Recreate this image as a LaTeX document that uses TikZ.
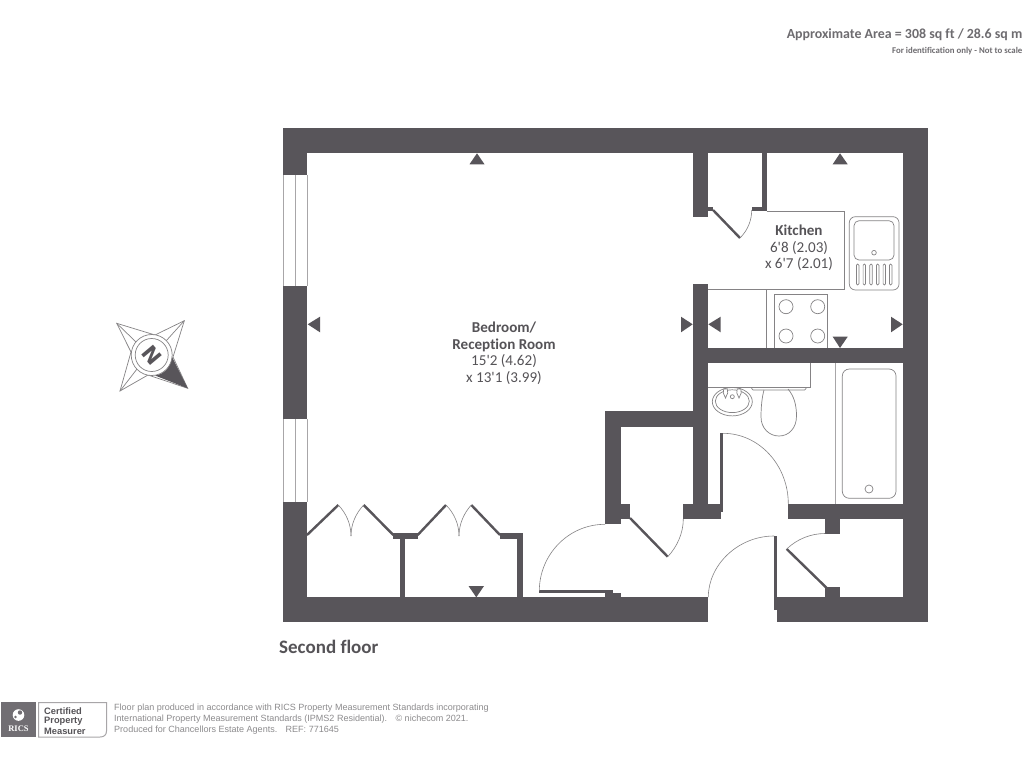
\documentclass[tikz,border=0pt]{standalone}
\usepackage{fontspec}
\newfontfamily\carl{Carlito}[Ligatures=NoCommon]
\newfontfamily\foot{Liberation Sans}
\newfontfamily\rserif{Liberation Serif}
\newfontfamily\djv{DejaVu Sans}
\definecolor{wallc}{HTML}{58555A}
\definecolor{linec}{HTML}{858385}
\definecolor{winc}{HTML}{A8A6A8}
\definecolor{txtc}{HTML}{555357}
\definecolor{toptxt}{HTML}{6E6C70}
\definecolor{footc}{HTML}{8C8B8D}
\newcommand{\wall}[4]{\fill[wallc] (#1,#2) rectangle (#3,#4);}
\newcommand{\fs}[1]{\fontsize{#1}{#1}\selectfont}
\tikzset{
  fixture/.style={draw=linec,line width=0.7pt},
  winline/.style={draw=winc,line width=1pt},
  leaf/.style={draw=wallc,line width=2.4pt},
  arcline/.style={draw=linec,line width=0.6pt},
  marker/.style={fill=wallc},
  label/.style={inner sep=0pt,anchor=base,text=txtc,font=\carl\fs{15.1}},
  labelb/.style={label,font=\carl\fs{15.1}\bfseries}
}
\begin{document}
\begin{tikzpicture}[x=1pt,y=-1pt]
\useasboundingbox (0,0) rectangle (1024,768);
\fill[white] (0,0) rectangle (1024,768);
% --- windows
\foreach \a/\b in {175/286,419/501.7}{
  \draw[winline,line width=1.3pt] (283.6,\a) -- (283.6,\b);
  \draw[winline] (295.3,\a) -- (295.3,\b);
  \draw[winline] (307,\a) -- (307,\b);
}
% --- outer walls
\wall{283}{128.3}{928.3}{152.7}
\wall{902.7}{128.3}{928.3}{622.3}
\wall{283}{128.3}{307.3}{175}
\wall{283}{286}{307.3}{419}
\wall{283}{501.7}{307.3}{622.3}
\wall{283}{597.3}{708.3}{622.3}
\wall{776.7}{597.3}{928.3}{622.3}
% --- inner walls
\wall{692.7}{152}{708.3}{216.7}
\wall{761.7}{152}{766.7}{211}
\wall{751.7}{206.7}{766.7}{211}
\wall{708}{206.7}{713}{211}
\wall{692.7}{284.3}{708.3}{519.3}
\wall{692.7}{348.3}{903}{363.3}
\wall{683.3}{504.3}{720.7}{519.3}
\wall{720}{433.3}{723.3}{512}
\wall{788.3}{504.3}{903}{519.3}
\wall{825}{519}{840}{534}
\wall{825}{587.3}{840}{598}
\wall{774}{536}{776.7}{610}
% closet
\wall{605}{411}{693}{426.7}
\wall{605}{411}{620.7}{524.3}
\wall{620}{504}{630}{519}
% wardrobes
\wall{393.3}{533.3}{417.7}{539}
\wall{400}{538}{405}{598}
\wall{500}{533.3}{522.7}{539}
\wall{517.3}{533.3}{522.7}{598}
% entry door foot
\wall{539.3}{590}{613}{592.7}
\wall{605}{592.5}{620.7}{598}
% --- door leaves
\draw[leaf] (713,210) -- (740,238);
\draw[leaf] (630,518) -- (667.7,556.7);
\draw[leaf] (786.7,549) -- (826.7,588);
\draw[leaf] (307,535) -- (338.3,505);
\draw[leaf] (363.7,505) -- (393.3,535);
\draw[leaf] (417.7,535) -- (446,505);
\draw[leaf] (471.3,505) -- (500,535);
% --- door swings
\draw[arcline] (740,238) .. controls (748,230) and (751.7,220) .. (751.7,210);
\draw[arcline] (667.7,556.7) .. controls (677,547) and (683.3,533) .. (683.3,519);
\draw[arcline] (723,433.3) .. controls (759,433.3) and (788.3,465) .. (788.3,504);
\draw[arcline] (605,524.3) .. controls (568,524.3) and (539.3,555) .. (539.3,591);
\draw[arcline] (774,536) .. controls (738,536) and (708.3,565) .. (708.3,597);
\draw[arcline] (786.7,549) .. controls (797,539) and (811,533.5) .. (825,533.5);
\draw[arcline] (338.3,505) .. controls (346,513) and (351,524) .. (351,536);
\draw[arcline] (363.7,505) .. controls (356,513) and (351,524) .. (351,536);
\draw[arcline] (446,505) .. controls (454,513) and (459,524) .. (459,536);
\draw[arcline] (471.3,505) .. controls (464,513) and (459,524) .. (459,536);
% --- kitchen counter and hob
\draw[fixture] (766.7,211) -- (844.7,211) -- (844.7,289.3) -- (708.3,289.3);
\draw[fixture] (766.7,289.3) -- (766.7,348.3);
\draw[fixture] (774,348.3) -- (774,294.3) -- (827.3,294.3) -- (827.3,348.3);
\foreach \cx in {786,817.7}\foreach \cy in {306.7,336}{\draw[fixture] (\cx,\cy) circle[radius=7];}
% sink
\draw[fixture,rounded corners=6pt] (849.3,216.7) rectangle (899,290);
\draw[fixture,rounded corners=5pt] (854,220.7) rectangle (894,260);
\draw[fixture] (874,252.7) circle[radius=2.3];
\foreach \gx in {857.7,864.3,871,877.7,884.3,890.7}{
  \draw[fixture,rounded corners=1.2pt] (\gx-1.2,264) rectangle (\gx+1.2,285);
}
% --- bathroom
\draw[draw=winc,line width=1pt] (835,363.3) -- (835,504.3);
\draw[fixture,rounded corners=7pt] (842.3,369) rectangle (896,498.3);
\draw[fixture] (869,489) circle[radius=4];
\draw[fixture] (708.3,387.3) -- (810.7,387.3) -- (810.7,363.3);
\draw[fixture,rounded corners=1.5pt] (751.7,387.3) -- (751.7,390) -- (806,390) -- (806,387.3);
\draw[fixture] (764,390) .. controls (762,397) and (761,407) .. (761,417)
   .. controls (761,428) and (769,436) .. (779,436)
   .. controls (789,436) and (796.5,428) .. (796.5,416)
   .. controls (796.5,405) and (794,396) .. (788,389);
\draw[fixture] (732.3,401.7) ellipse[x radius=20,y radius=14.2];
\draw[fixture] (732.3,401.2) ellipse[x radius=17,y radius=11.4];
\draw[fixture] (732.3,396.7) circle[radius=2];
\foreach \tx in {725.5,739}{
  \draw[fixture,fill=white] (\tx-1.8,389) -- (\tx+1.8,389) -- (\tx+2.2,393) -- (\tx,398) -- (\tx-2.2,393) -- cycle;
}
% --- markers
\fill[marker] (477,153.3) -- (484.5,164.3) -- (469.5,164.3) -- cycle;
\fill[marker] (840,153.3) -- (847.7,164.3) -- (832.7,164.3) -- cycle;
\fill[marker] (840,348) -- (847.7,336.7) -- (832.7,336.7) -- cycle;
\fill[marker] (476.3,597.3) -- (484,586) -- (468.5,586) -- cycle;
\fill[marker] (307.7,324.3) -- (320,316.7) -- (320,332.3) -- cycle;
\fill[marker] (692.7,324.3) -- (681,316.7) -- (681,332.3) -- cycle;
\fill[marker] (708.3,324.3) -- (720.7,316.7) -- (720.7,332.3) -- cycle;
\fill[marker] (902.7,324.3) -- (891,316.7) -- (891,332.3) -- cycle;
% --- compass
\draw[fixture] (116.7,323.3) -- (155,335) -- (184.3,320.7) -- (173,357) -- (187.7,388.3) -- (148,375) -- (120,391) -- (131,352) -- cycle;
\draw[fixture] (116.7,323.3) -- (136,342);
\draw[fixture] (184.3,320.7) -- (166,341);
\draw[fixture] (120,391) -- (137,369);
\fill[white] (151.7,355) circle[radius=20.5];
\fill[wallc] (172,357) -- (187.7,388.3) -- (155,375.5) .. controls (164,374.5) and (171,367) .. (172,357) -- cycle;
\draw[fixture] (151.7,355) circle[radius=20.5];
\draw[fixture] (151.7,355) circle[radius=16.5];
\node[inner sep=0pt,rotate=-50,text=wallc,font=\djv\fs{21}\bfseries] (compassN) at (151.7,355.5) {N};
% --- labels
\node[labelb] (kit1) at (799,235.5) {Kitchen};
\node[label] (kit2) at (799,252) {6'8 (2.03)};
\node[label] (kit3) at (799,268) {x 6'7 (2.01)};
\node[labelb] (bed1) at (504,332.5) {Bedroom/};
\node[labelb] (bed2) at (504,349) {Reception Room};
\node[label] (bed3) at (504,365.5) {15'2 (4.62)};
\node[label] (bed4) at (504,382) {x 13'1 (3.99)};
\node[inner sep=0pt,anchor=base west,text=txtc,font=\carl\fs{19}\bfseries] (floorname) at (279,653) {Second floor};
\node[inner sep=0pt,anchor=base east,text=toptxt,font=\carl\fs{13.9}\bfseries] (area) at (1022.5,38.5) {Approximate Area = 308 sq ft / 28.6 sq m};
\node[inner sep=0pt,anchor=base east,text=toptxt,font=\carl\fs{8.8}\bfseries] (scale) at (1022.5,53) {For identification only - Not to scale};
% --- RICS badge
\fill[wallc!85!white] (1,702.3) rectangle (36,737.3);
\draw[draw=winc,line width=1pt] (38.5,702.5) -- (106.5,702.5) -- (106.5,731) .. controls (106.5,735) and (104,737) .. (100,737) -- (38.5,737) -- cycle;
\fill[white] (18.5,715) circle[radius=5.8];
\fill[wallc!85!white] (20,712.5) circle[radius=2.2];
\fill[wallc!85!white] (15.5,717) circle[radius=1.4];
\node[inner sep=0pt,text=white,font=\rserif\fs{8.5}\bfseries] (rics) at (18.5,728.7) {RICS};
\node[inner sep=0pt,anchor=west,text=txtc,font=\foot\fs{9.3}\bfseries] (cert1) at (44,711) {Certified};
\node[inner sep=0pt,anchor=west,text=txtc,font=\foot\fs{9.3}\bfseries] (cert2) at (44,721) {Property};
\node[inner sep=0pt,anchor=west,text=txtc,font=\foot\fs{9.3}\bfseries] (cert3) at (44,731) {Measurer};
\node[inner sep=0pt,anchor=west,text=footc,font=\foot\fs{9.03}] (foot1) at (114,708) {Floor plan produced in accordance with RICS Property Measurement Standards incorporating};
\node[inner sep=0pt,anchor=west,text=footc,font=\foot\fs{9.03}] (foot2) at (114,719) {International Property Measurement Standards (IPMS2 Residential). \ \ © nichecom 2021.};
\node[inner sep=0pt,anchor=west,text=footc,font=\foot\fs{9.03}] (foot3) at (114,730) {Produced for Chancellors Estate Agents. \ \ REF: 771645};
\end{tikzpicture}
\end{document}
